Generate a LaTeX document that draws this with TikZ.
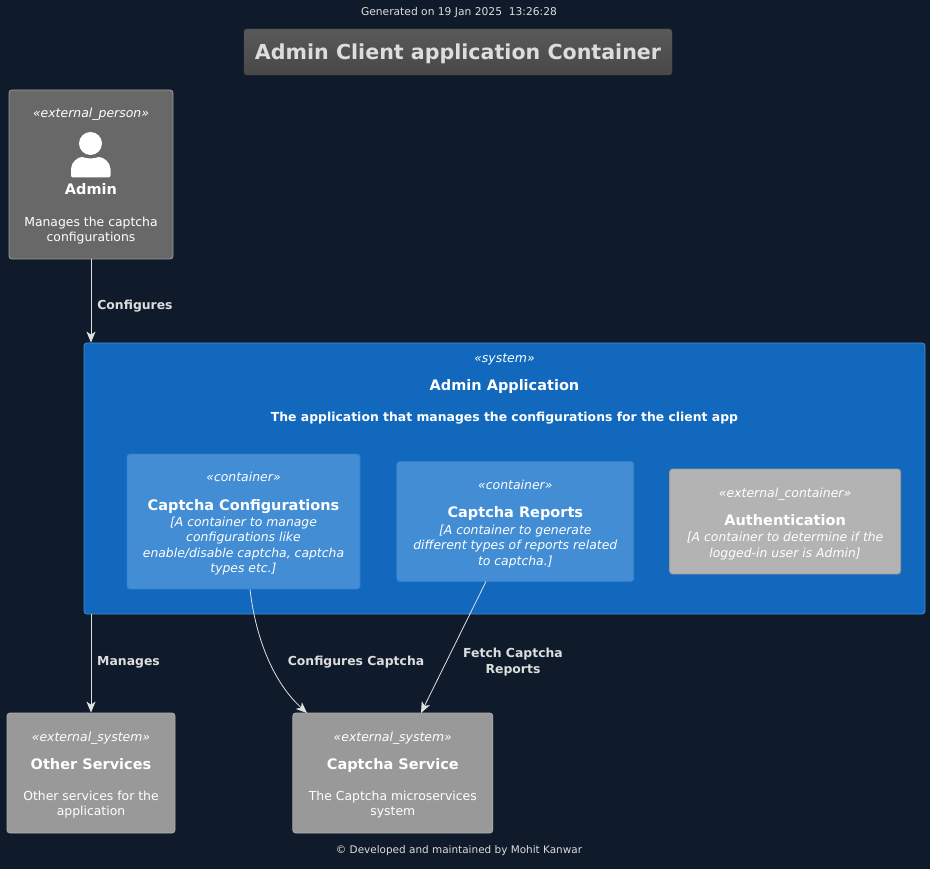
\documentclass[tikz,border=0pt]{standalone}
\usepackage{fontspec}
\setmainfont{DejaVu Sans}
\usetikzlibrary{positioning,arrows.meta}

\definecolor{bgcol}{HTML}{0F1B2A}
\definecolor{linecol}{HTML}{E0E0E0}
\definecolor{labelcol}{HTML}{DDDDDD}
\definecolor{personcol}{HTML}{686868}
\definecolor{syscol}{HTML}{1168BD}
\definecolor{contcol}{HTML}{438DD5}
\definecolor{extcontcol}{HTML}{B3B3B3}
\definecolor{extsyscol}{HTML}{999999}

\newcommand{\stereo}[1]{{\itshape\fontsize{12.45}{15}\selectfont «#1»}}
\newcommand{\boxname}[1]{{\bfseries\fontsize{14.5}{17}\selectfont #1}}
\newcommand{\lift}{\rule{0pt}{14pt}}

\tikzset{
    basebox/.style={draw, line width=0.8pt, rounded corners=3pt, align=center, text=white, inner sep=0pt,
        font=\fontsize{12.4}{15.4}\selectfont},
    personbox/.style={basebox, fill=personcol, draw=personcol!65!white},
    sysbox/.style={basebox, fill=syscol, draw=contcol},
    contbox/.style={basebox, fill=contcol, draw=syscol!35!contcol},
    extcontbox/.style={basebox, fill=extcontcol, draw=extcontcol!85!black},
    extsysbox/.style={basebox, fill=extsyscol, draw=extsyscol!80!white},
    edgelabel/.style={text=labelcol, align=center, inner sep=0pt, font=\bfseries\fontsize{12.4}{15.3}\selectfont},
    smalltext/.style={text=labelcol, inner sep=0pt, font=\fontsize{10.7}{13}\selectfont},
    link/.style={draw=linecol, line width=0.8pt, ->}
}

\begin{document}
\begin{tikzpicture}[x=1pt, y=-1pt, >={Stealth[length=11pt,width=9pt,inset=3pt]}]
    \useasboundingbox[fill=bgcol] (0,0) rectangle (930,869);

    % Title
    \node[smalltext] (header) at (459,13) {Generated on 19 Jan 2025\ \ 13:26:28};
    \node[draw=black!70!white, rounded corners=3pt, top color=black!65!white, bottom color=black!72!white,
        text=labelcol, minimum width=428pt, minimum height=46pt, inner sep=0pt, text depth=-1pt,
        font=\bfseries\fontsize{20.6}{26}\selectfont] (title) at (458,52) {Admin Client application Container};

    % Person
    \node[personbox, minimum width=164pt, minimum height=169pt] (admin) at (91,174.5) {};
    \node[text=white, inner sep=0pt] (adminstereo) at (91,114.5) {\stereo{external\_person}};
    \fill[white] (90.5,143.5) circle (11.5pt);
    \fill[white, rounded corners=2pt] (71,177.5) -- (71,171) .. controls (71,162) and (78,157) .. (84,157)
        .. controls (87,158.5) and (94,158.5) .. (97,157) .. controls (103,157) and (110.5,162) .. (110.5,171) -- (110.5,177.5) -- cycle;
    \node[text=white, inner sep=0pt, align=center, font=\fontsize{12.4}{15.3}\selectfont, anchor=north] (admintext) at (91,183.5)
        {\boxname{Admin}\\[16pt]Manages the captcha\\configurations};

    % System
    \node[sysbox, minimum width=841pt, minimum height=271pt] (system) at (504.5,478.5) {};
    \node[text=white, inner sep=0pt, align=center, font=\fontsize{12.4}{15.3}\selectfont, anchor=north] (systemtext) at (504.5,354)
        {\stereo{system}\\[12pt]\boxname{Admin Application}\\[16pt]\textbf{The application that manages the configurations for the client app}};

    % Containers
    \node[contbox, minimum width=233pt, minimum height=135pt] (config) at (243.5,521.5)
        {\lift\stereo{container}\\[13pt]\boxname{Captcha Configurations}\\[1pt]
        \itshape [A container to manage\\\itshape configurations like\\\itshape enable/disable captcha, captcha\\\itshape types etc.]};
    \node[contbox, minimum width=237pt, minimum height=120pt, right=36pt of config] (reports)
        {\lift\stereo{container}\\[13pt]\boxname{Captcha Reports}\\[1pt]
        \itshape [A container to generate\\\itshape different types of reports related\\\itshape to captcha.]};
    \node[extcontbox, minimum width=231pt, minimum height=105pt, right=35pt of reports] (auth)
        {\lift\stereo{external\_container}\\[13pt]\boxname{Authentication}\\[1pt]
        \itshape [A container to determine if the\\\itshape logged-in user is Admin]};

    % External systems
    \node[extsysbox, minimum width=168pt, minimum height=120pt] (other) at (91,773)
        {\lift\stereo{external\_system}\\[12.5pt]\boxname{Other Services}\\[15pt]Other services for the\\application};
    \node[extsysbox, minimum width=200pt, minimum height=120pt, right=117pt of other] (service)
        {\lift\stereo{external\_system}\\[12.5pt]\boxname{Captcha Service}\\[15pt]The Captcha microservices\\system};

    \node[smalltext, font=\fontsize{10.45}{13}\selectfont] (footer) at (459,851) {© Developed and maintained by Mohit Kanwar};

    % Arrows
    \coordinate (configout) at (250,589.5);
    \coordinate (reportsout) at (486,581.5);
    \coordinate (servicein) at (307,713);
    \coordinate (servicein2) at (421,713);
    \draw[link] (admin.south) -- (admin.south |- system.north);
    \draw[link] (other.north |- system.south) -- (other.north);
    \draw[link] (configout) .. controls (256,640) and (274,683) .. (servicein);
    \draw[link] (reportsout) -- (servicein2);

    % Labels
    \node[edgelabel] (configures) at (135,306.5) {Configures};
    \node[edgelabel] (manages) at (128.5,662.5) {Manages};
    \node[edgelabel] (configlabel) at (356,662.5) {Configures Captcha};
    \node[edgelabel] (fetchlabel) at (513,662) {Fetch Captcha\\Reports};
\end{tikzpicture}
\end{document}
